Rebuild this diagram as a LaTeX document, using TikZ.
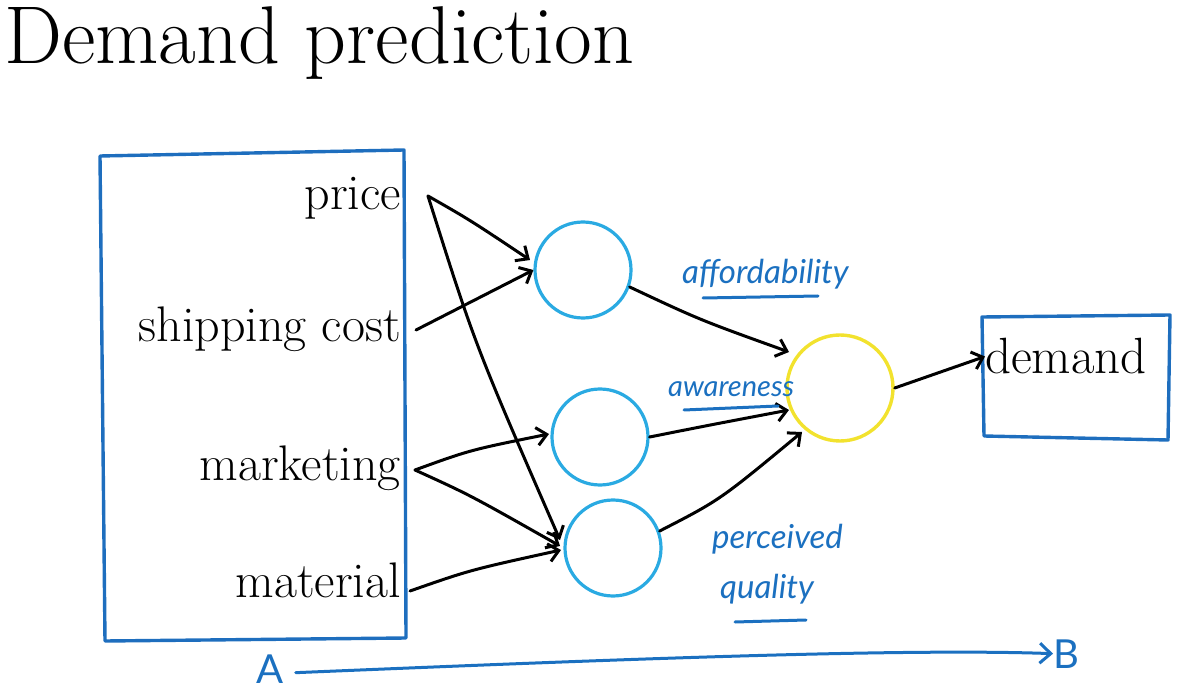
\documentclass[tikz,border=0pt]{standalone}
\usepackage{fontspec}
\usetikzlibrary{arrows.meta}
\newfontfamily\handfont{Lato}
\definecolor{boxblue}{HTML}{1E6EBE}
\definecolor{unitcyan}{HTML}{2AAAE2}
\definecolor{outyellow}{HTML}{F2E22E}
\definecolor{inkblue}{HTML}{1B70C0}
\begin{document}
\begin{tikzpicture}[x=1pt,y=-1pt,
  feature/.style={anchor=base east,inner sep=0pt,font=\fontsize{50}{50}\selectfont},
  hidden/.style={circle,draw=unitcyan,line width=3.2pt,minimum size=96pt,inner sep=0pt},
  outunit/.style={circle,draw=outyellow,line width=3.4pt,minimum size=106pt,inner sep=0pt},
  frame/.style={draw=boxblue,line width=3.4pt,line join=round},
  wire/.style={draw=black,line width=3pt,line cap=round,-{Straight Barb[length=10pt,width=18pt,line width=3pt]}},
  note/.style={text=inkblue,inner sep=0pt,font=\handfont\itshape\fontsize{33}{33}\selectfont},
  uline/.style={draw=inkblue,line width=3pt,line cap=round}]
\useasboundingbox (0,0) rectangle (1178,692);

% title
\node[anchor=base west,inner sep=0pt,font=\fontsize{82}{82}\selectfont] (title) at (4,64) {Demand prediction};

% input frame and feature labels
\draw[frame] (100,156) -- (404,150) -- (406,638) -- (105,641) -- cycle;
\node[feature] (price) at (401,210) {price};
\node[feature] (ship) at (401,342) {shipping cost};
\node[feature] (mkt) at (401,480) {marketing};
\node[feature] (mat) at (401,597) {material};

% wire start points beside the feature labels
\coordinate (p0) at (428,196);
\coordinate (s0) at (416,330);
\coordinate (m0) at (415,470);
\coordinate (t0) at (410,591);

% hidden units and output unit
\node[hidden] (h1) at (583,270) {};
\node[hidden] (h2) at (600,437) {};
\node[hidden] (h3) at (613,548) {};
\node[outunit] (out) at (840,388) {};

% output frame
\node[inner sep=0pt,font=\fontsize{51}{51}\selectfont,anchor=base west] (demand) at (985,374) {demand};
\draw[frame] (982,317) -- (1170,315) -- (1168,440) -- (984,436) -- cycle;

% input wires
\draw[wire] (p0) .. controls (470,220) .. (530,260);
\draw[wire] (s0) -- (h1.west);
\draw[wire] (p0) .. controls (475,345) .. (560,540);
\draw[wire] (m0) .. controls (470,450) .. (549,434);
\draw[wire] (m0) .. controls (470,495) .. (560,546);
\draw[wire] (t0) .. controls (470,570) .. (561,550);

% hidden to output wires
\draw[wire] (h1.-20) .. controls (700,320) .. (789,352);
\draw[wire] (h2.east) .. controls (710,425) .. (789,410);
\draw[wire] (h3.20) .. controls (720,500) .. (802,432);
\draw[wire] (out.east) -- (demand.west);

% handwritten annotations
\node[note,anchor=base west] (aff) at (682,284) {affordability};
\draw[uline] (703,298) -- (818,296);
\node[note,anchor=base west,font=\handfont\itshape\fontsize{29}{29}\selectfont] (awa) at (668,396) {awareness};
\draw[uline] (684,410) -- (778,406);
\node[note,anchor=base west] (per) at (712,548) {perceived};
\node[note,anchor=base west] (qua) at (720,598) {quality};
\draw[uline] (735,622) -- (806,620);

% A to B mapping
\node[text=inkblue,inner sep=0pt,font=\handfont\fontsize{40}{40}\selectfont,anchor=base] (A) at (270,683) {A};
\node[text=inkblue,inner sep=0pt,font=\handfont\fontsize{40}{40}\selectfont,anchor=base west] (B) at (1053,668) {B};
\draw[draw=inkblue,line width=3pt,line cap=round,-{Straight Barb[length=11pt,width=20pt,line width=3pt]}]
  ([xshift=12pt,yshift=-4pt]A.east) .. controls (600,660) and (900,648) .. (B.west);
\end{tikzpicture}
\end{document}
